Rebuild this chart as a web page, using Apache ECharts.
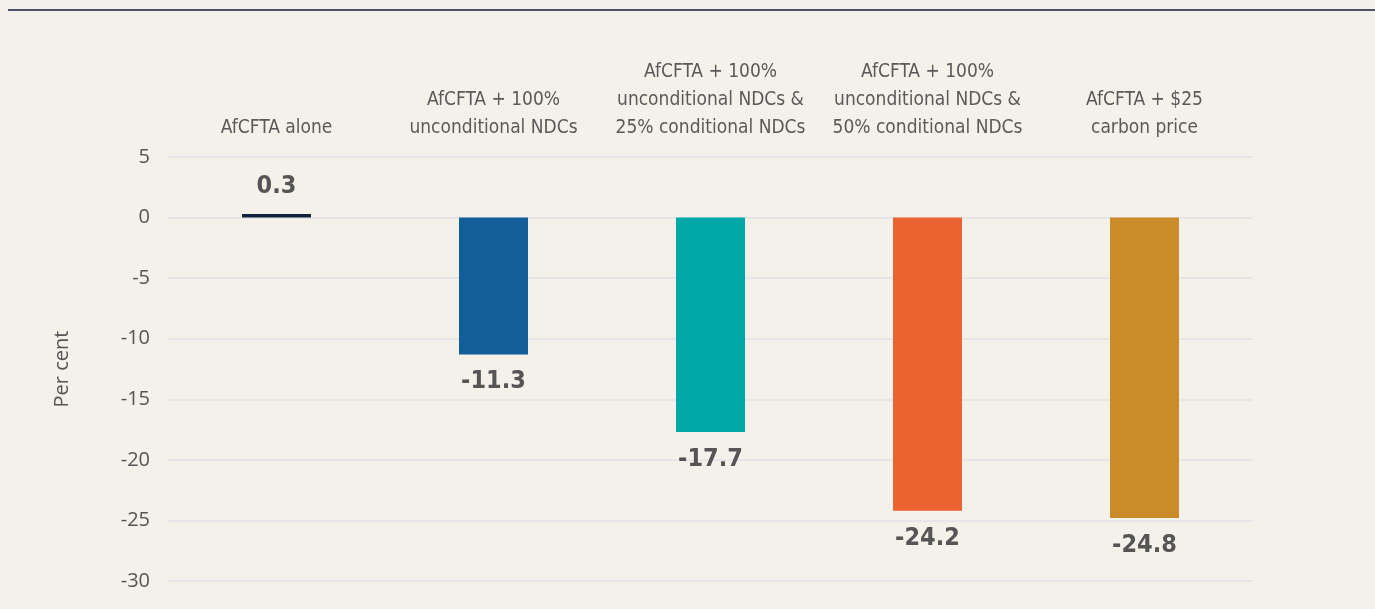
<!DOCTYPE html>
<html>
<head>
<meta charset="utf-8">
<script src="https://cdn.jsdelivr.net/npm/echarts@6/dist/echarts.min.js"></script>
<style>
  html, body { margin: 0; padding: 0; background: #f4f1ea; }
  #chart { width: 1375px; height: 609px; }
</style>
</head>
<body>
<div id="chart"></div>
<script>
// 数据
const categories = [
  'AfCFTA alone',
  'AfCFTA + 100%\nunconditional NDCs',
  'AfCFTA + 100%\nunconditional NDCs &\n25% conditional NDCs',
  'AfCFTA + 100%\nunconditional NDCs &\n50% conditional NDCs',
  'AfCFTA + $25\ncarbon price'
]
const values = [0.3, -11.3, -17.7, -24.2, -24.8]
const barColors = ['#14213d', '#115e99', '#00a9a8', '#eb6330', '#c98c29']
const yTicks = { min: -30, max: 5, interval: 5 }

const narrow = '"Liberation Sans Narrow", "DejaVu Sans Condensed", sans-serif'

const chart = echarts.init(document.getElementById('chart'))

chart.setOption({
  backgroundColor: '#f4f1ea',
  animation: false,
  graphic: [
    {
      type: 'rect',
      shape: { x: 8, y: 9, width: 1367, height: 2 },
      style: { fill: '#4d5464' }
    }
  ],
  grid: { left: 168, right: 122, top: 157, bottom: 28 },
  xAxis: {
    type: 'category',
    position: 'top',
    data: categories,
    axisLine: { show: false },
    axisTick: { show: false },
    axisLabel: {
      interval: 0,
      margin: 15,
      color: '#5a5a5a',
      fontFamily: narrow,
      fontSize: 19,
      lineHeight: 28,
      verticalAlign: 'bottom'
    }
  },
  yAxis: {
    type: 'value',
    min: yTicks.min,
    max: yTicks.max,
    interval: yTicks.interval,
    name: 'Per cent',
    nameLocation: 'middle',
    nameGap: 96,
    nameTextStyle: { color: '#555555', fontFamily: '"Open Sans", sans-serif', fontSize: 20 },
    axisLine: { show: false },
    axisTick: { show: false },
    axisLabel: {
      margin: 18,
      color: '#555555',
      fontFamily: '"Open Sans", sans-serif',
      fontSize: 20
    },
    splitLine: { lineStyle: { color: '#e6e6e8', width: 2 } }
  },
  series: [{
    type: 'bar',
    barWidth: 69,
    data: values.map((v, i) => ({
      value: v,
      itemStyle: { color: barColors[i] },
      label: { position: v >= 0 ? 'top' : 'bottom' }
    })),
    label: {
      show: true,
      distance: 15,
      color: '#555555',
      fontFamily: narrow,
      fontWeight: 'bold',
      fontSize: 25,
      formatter: p => p.value.toFixed(1)
    }
  }]
})
</script>
</body>
</html>
